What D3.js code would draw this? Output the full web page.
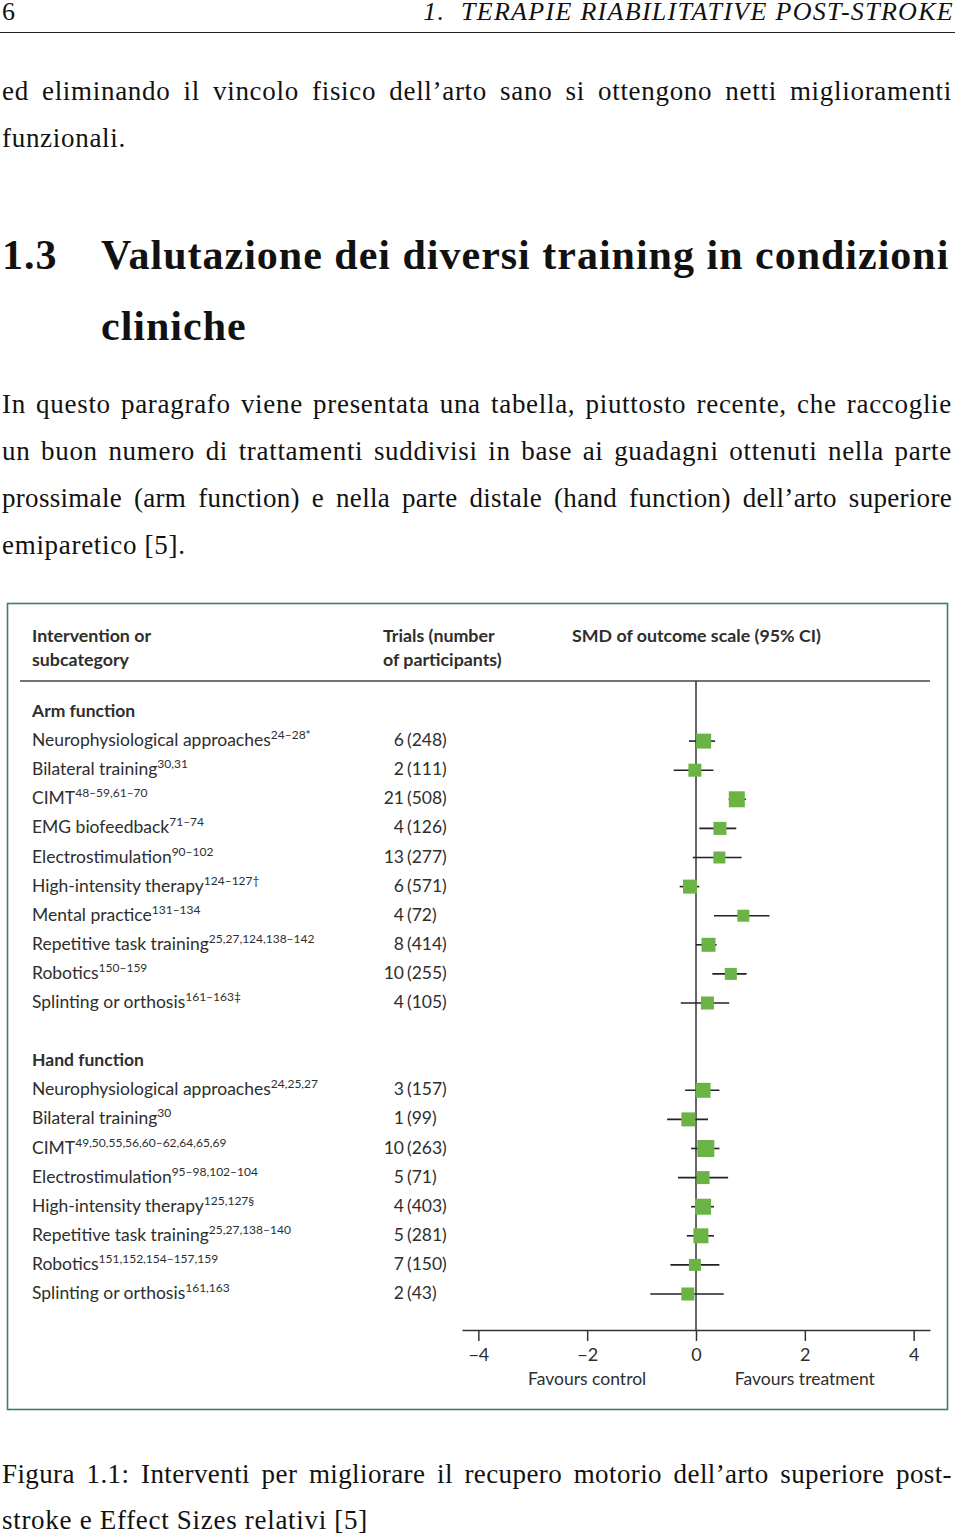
<!DOCTYPE html>
<html>
<head>
<meta charset="utf-8">
<script src="https://cdn.jsdelivr.net/npm/d3@7/dist/d3.min.js"></script>
<style>
  html, body { margin: 0; padding: 0; background: #fff; }
  body { width: 960px; height: 1538px; position: relative; overflow: hidden; }
  .ln { position: absolute; left: 2px; width: 950px; font-family: "Liberation Serif", serif; font-size: 27px; letter-spacing: 0.7px; line-height: 30px; color: #111; white-space: nowrap; }
  .j { text-align: justify; text-align-last: justify; white-space: normal; }
  svg { position: absolute; left: 0; top: 0; }
</style>
</head>
<body>
<div id="page"></div>
<svg id="chart" width="960" height="1538"></svg>
<script>
// ---------------- DATA ----------------
const armLabels = ["Neurophysiological approaches", "Bilateral training", "CIMT", "EMG biofeedback", "Electrostimulation",
  "High-intensity therapy", "Mental practice", "Repetitive task training", "Robotics", "Splinting or orthosis"];
const armRefs = ["24–28*", "30,31", "48–59,61–70", "71–74", "90–102", "124–127†", "131–134", "25,27,124,138–142", "150–159", "161–163‡"];
const armTrials = [6, 2, 21, 4, 13, 6, 4, 8, 10, 4];
const armParticipants = [248, 111, 508, 126, 277, 571, 72, 414, 255, 105];
const armSMD = [0.14, -0.02, 0.75, 0.44, 0.43, -0.11, 0.87, 0.23, 0.64, 0.21];
const armLow = [-0.13, -0.41, 0.60, 0.06, -0.06, -0.30, 0.33, 0.00, 0.30, -0.28];
const armHigh = [0.35, 0.32, 0.92, 0.74, 0.84, 0.06, 1.35, 0.38, 0.93, 0.61];
const armWeight = [15, 13, 16, 13, 12, 14, 12, 14, 12, 13];

const handLabels = ["Neurophysiological approaches", "Bilateral training", "CIMT", "Electrostimulation",
  "High-intensity therapy", "Repetitive task training", "Robotics", "Splinting or orthosis"];
const handRefs = ["24,25,27", "30", "49,50,55,56,60–62,64,65,69", "95–98,102–104", "125,127§", "25,27,138–140", "151,152,154–157,159", "161,163"];
const handTrials = [3, 1, 10, 5, 4, 5, 7, 2];
const handParticipants = [157, 99, 263, 71, 403, 281, 150, 43];
const handSMD = [0.13, -0.14, 0.18, 0.13, 0.13, 0.09, -0.02, -0.15];
const handLow = [-0.20, -0.53, -0.09, -0.33, -0.09, -0.17, -0.47, -0.84];
const handHigh = [0.43, 0.22, 0.43, 0.59, 0.33, 0.33, 0.43, 0.51];
const handWeight = [15, 14, 17, 13, 16, 15, 12, 13];

const sectionTitles = ["Arm function", "Hand function"];
const axisTicks = [-4, -2, 0, 2, 4];
const favourLabels = ["Favours control", "Favours treatment"];
const headerCols = [["Intervention or", "subcategory"], ["Trials (number", "of participants)"], ["SMD of outcome scale (95% CI)"]];

// ---------------- PAGE TEXT ----------------
const page = d3.select("#page");
const lines = [
  {t: "ed eliminando il vincolo fisico dell’arto sano si ottengono netti miglioramenti", y: 93, j: true},
  {t: "funzionali.", y: 140, j: false},
  {t: "In questo paragrafo viene presentata una tabella, piuttosto recente, che raccoglie", y: 406, j: true},
  {t: "un buon numero di trattamenti suddivisi in base ai guadagni ottenuti nella parte", y: 453, j: true},
  {t: "prossimale (arm function) e nella parte distale (hand function) dell’arto superiore", y: 500, j: true, ls: 0.3},
  {t: "emiparetico [5].", y: 547, j: false},
  {t: "Figura 1.1: Interventi per migliorare il recupero motorio dell’arto superiore post-", y: 1476, j: true, ls: 0.4},
  {t: "stroke e Effect Sizes relativi [5]", y: 1522, j: false}
];
lines.forEach(l => {
  const dv = page.append("div").attr("class", "ln" + (l.j ? " j" : ""))
    .style("top", (l.y - 17) + "px").text(l.t);
  if (l.ls !== undefined) dv.style("letter-spacing", l.ls + "px");
});
// running head
page.append("div").attr("class", "ln").style("top", "-3px").style("font-size", "26px").style("letter-spacing", "0px").text("6");
page.append("div").attr("class", "ln").style("top", "-3px").style("text-align", "right")
  .style("font-style", "italic").style("font-size", "26px").style("letter-spacing", "1.3px")
  .style("left", "0px").style("width", "954px")
  .text("1.\u00a0\u00a0TERAPIE RIABILITATIVE POST-STROKE");
// heading
const hd = {"font-size": "42px", "line-height": "46px", "font-weight": "bold", "letter-spacing": "1px"};
function styled(sel) { Object.entries(hd).forEach(([k, v]) => sel.style(k, v)); return sel; }
styled(page.append("div").attr("class", "ln").style("top", "232px")).text("1.3");
styled(page.append("div").attr("class", "ln").style("top", "232px").style("left", "101px").style("width", "851px"))
  .text("Valutazione dei diversi training in condizioni");
styled(page.append("div").attr("class", "ln").style("top", "303px").style("left", "101px")).text("cliniche");

// ---------------- CHART ----------------
const svg = d3.select("#chart");
svg.append("line").attr("x1", 0).attr("x2", 955).attr("y1", 32.5).attr("y2", 32.5)
  .attr("stroke", "#222").attr("stroke-width", 1.2);

const font = "Lato, 'Open Sans', sans-serif";
const ink = "#2e2e2e";
const green = "#6cb346";
const fs = 17.5;

svg.append("rect").attr("x", 7.5).attr("y", 603.5).attr("width", 940).attr("height", 806)
  .attr("fill", "#fff").attr("stroke", "#3d7f5f").attr("stroke-width", 1.6);

const headX = [32, 383, 572];
headerCols.forEach((col, i) => {
  col.forEach((t, k) => {
    svg.append("text").attr("x", headX[i]).attr("y", 642 + k * 24)
      .attr("font-family", font).attr("font-weight", 700).attr("font-size", 17.8)
      .attr("fill", ink).text(t);
  });
});
svg.append("line").attr("x1", 20).attr("x2", 930).attr("y1", 681).attr("y2", 681)
  .attr("stroke", "#444").attr("stroke-width", 1.5);

function rows(labels, refs, trials, parts, smd, lo, hi, w) {
  return labels.map((l, i) => ({label: l, ref: refs[i], trials: trials[i], n: parts[i], smd: smd[i], lo: lo[i], hi: hi[i], w: w[i]}));
}
const arm = rows(armLabels, armRefs, armTrials, armParticipants, armSMD, armLow, armHigh, armWeight);
const hand = rows(handLabels, handRefs, handTrials, handParticipants, handSMD, handLow, handHigh, handWeight);
const layout = [];
layout.push({type: "head", text: sectionTitles[0]});
arm.forEach(r => layout.push({type: "row", ...r}));
layout.push({type: "blank"});
layout.push({type: "head", text: sectionTitles[1]});
hand.forEach(r => layout.push({type: "row", ...r}));

const y = d3.scalePoint().domain(d3.range(layout.length)).range([711, 1293]);
const x = d3.scaleLinear().domain([-4.3, 4.3]).range([462, 930]);
const size = d3.scaleLinear().domain([0, 17]).range([0, 17]);

layout.forEach((d, i) => { d.y = y(i); });

svg.selectAll("text.sec").data(layout.filter(d => d.type === "head")).join("text")
  .attr("class", "sec").attr("x", 32).attr("y", d => d.y + 6)
  .attr("font-family", font).attr("font-weight", 700).attr("font-size", fs).attr("fill", ink)
  .text(d => d.text);

const data = layout.filter(d => d.type === "row");
const lab = svg.selectAll("text.lab").data(data).join("text")
  .attr("class", "lab").attr("x", 32).attr("y", d => d.y + 6)
  .attr("font-family", font).attr("font-size", fs).attr("fill", ink);
lab.append("tspan").text(d => d.label);
lab.append("tspan").attr("font-size", 12).attr("dy", -7).text(d => d.ref);

svg.selectAll("text.tr").data(data).join("text")
  .attr("class", "tr").attr("x", 404).attr("y", d => d.y + 6).attr("text-anchor", "end")
  .attr("font-family", font).attr("font-size", fs).attr("fill", ink).text(d => d.trials);
svg.selectAll("text.np").data(data).join("text")
  .attr("class", "np").attr("x", 407).attr("y", d => d.y + 6)
  .attr("font-family", font).attr("font-size", fs).attr("fill", ink).text(d => "(" + d.n + ")");

svg.append("line").attr("x1", x(0)).attr("x2", x(0)).attr("y1", 681).attr("y2", 1330)
  .attr("stroke", "#333").attr("stroke-width", 1.5);

svg.selectAll("line.ci").data(data).join("line").attr("class", "ci")
  .attr("x1", d => x(d.lo)).attr("x2", d => x(d.hi)).attr("y1", d => d.y + 1).attr("y2", d => d.y + 1)
  .attr("stroke", "#222").attr("stroke-width", 1.6);
svg.selectAll("rect.box").data(data).join("rect").attr("class", "box")
  .attr("x", d => x(d.smd) - size(d.w) / 2).attr("y", d => d.y + 1 - size(d.w) / 2)
  .attr("width", d => size(d.w)).attr("height", d => size(d.w)).attr("fill", green);

const ax = svg.append("g").attr("transform", "translate(0,1330)")
  .call(d3.axisBottom(x).tickValues(axisTicks).tickSize(11).tickSizeOuter(0).tickFormat(d3.format("d")));
ax.select(".domain").attr("stroke", "#333").attr("stroke-width", 1.5);
ax.selectAll(".tick line").attr("stroke", "#333").attr("stroke-width", 1.5);
ax.selectAll(".tick text").attr("font-family", font).attr("font-size", 18).attr("fill", ink).attr("dy", "0.95em");

svg.selectAll("text.fav").data(favourLabels).join("text").attr("class", "fav")
  .attr("x", (d, i) => x(i === 0 ? -2 : 2)).attr("y", 1385).attr("text-anchor", "middle")
  .attr("font-family", font).attr("font-size", fs).attr("fill", ink).text(d => d);
</script>
</body>
</html>
